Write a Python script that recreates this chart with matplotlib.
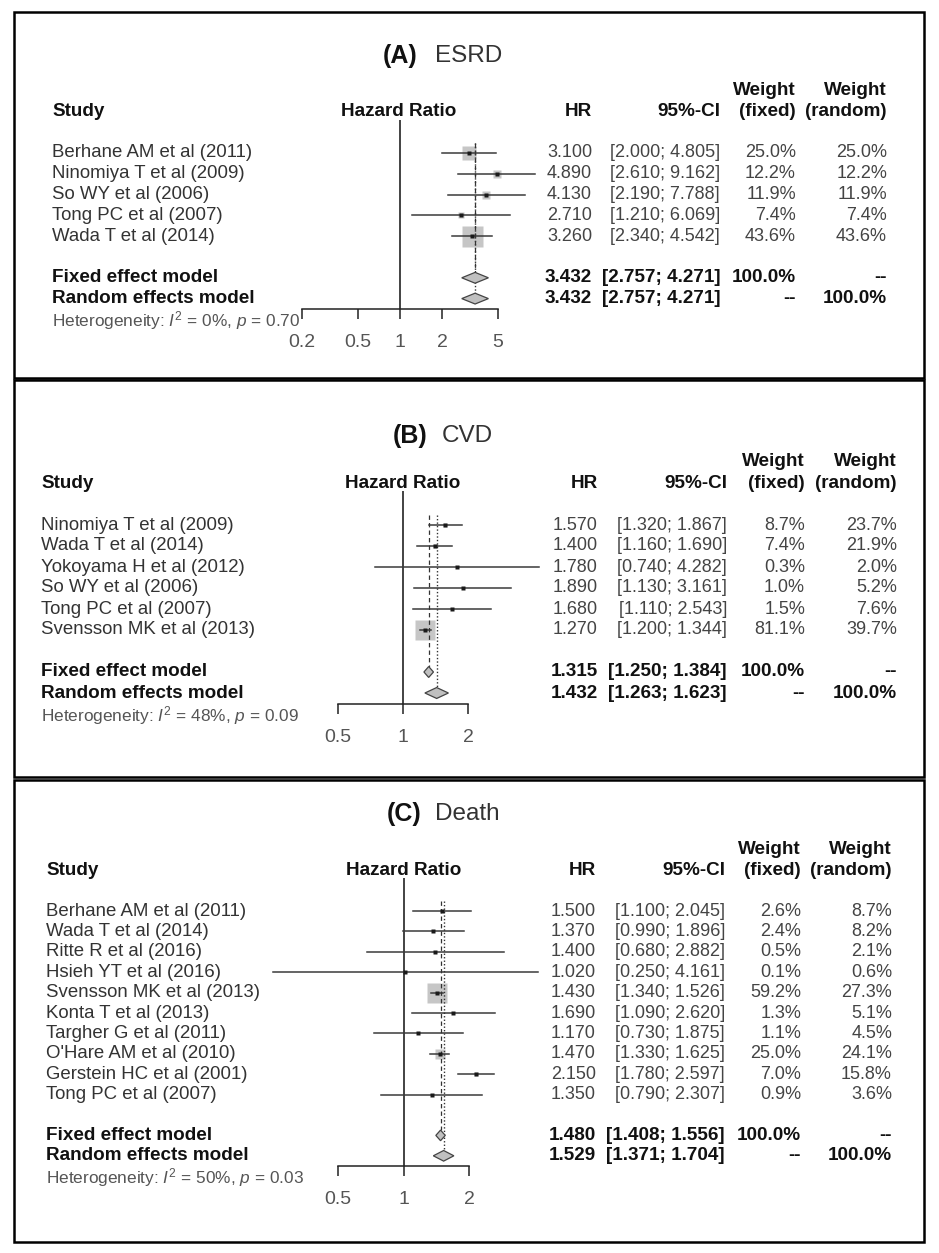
import matplotlib
matplotlib.use("Agg")
import matplotlib.pyplot as plt
from matplotlib import transforms
from matplotlib.patches import Rectangle, Polygon
from matplotlib.ticker import FixedLocator, FixedFormatter, NullLocator

plt.rcParams['font.family'] = ['Liberation Sans', 'DejaVu Sans']
plt.rcParams['mathtext.fontset'] = 'custom'
plt.rcParams['mathtext.rm'] = 'Liberation Sans'
plt.rcParams['mathtext.it'] = 'Liberation Sans:italic'

# ---- (A) ESRD ----
esrd_title = ("(A)", "ESRD")
esrd_studies = ["Berhane AM et al (2011)", "Ninomiya T et al (2009)", "So WY et al (2006)",
                "Tong PC et al (2007)", "Wada T et al (2014)"]
esrd_hr = [3.100, 4.890, 4.130, 2.710, 3.260]
esrd_lo = [2.000, 2.610, 2.190, 1.210, 2.340]
esrd_hi = [4.805, 9.162, 7.788, 6.069, 4.542]
esrd_wf = [25.0, 12.2, 11.9, 7.4, 43.6]
esrd_wr = [25.0, 12.2, 11.9, 7.4, 43.6]
esrd_fixed = [3.432, 2.757, 4.271]
esrd_random = [3.432, 2.757, 4.271]
esrd_i2, esrd_p = 0, 0.70
esrd_ticks = [0.2, 0.5, 1, 2, 5]
esrd_ticklabels = ["0.2", "0.5", "1", "2", "5"]

# ---- (B) CVD ----
cvd_title = ("(B)", "CVD")
cvd_studies = ["Ninomiya T et al (2009)", "Wada T et al (2014)", "Yokoyama H et al (2012)",
               "So WY et al (2006)", "Tong PC et al (2007)", "Svensson MK et al (2013)"]
cvd_hr = [1.570, 1.400, 1.780, 1.890, 1.680, 1.270]
cvd_lo = [1.320, 1.160, 0.740, 1.130, 1.110, 1.200]
cvd_hi = [1.867, 1.690, 4.282, 3.161, 2.543, 1.344]
cvd_wf = [8.7, 7.4, 0.3, 1.0, 1.5, 81.1]
cvd_wr = [23.7, 21.9, 2.0, 5.2, 7.6, 39.7]
cvd_fixed = [1.315, 1.250, 1.384]
cvd_random = [1.432, 1.263, 1.623]
cvd_i2, cvd_p = 48, 0.09
cvd_ticks = [0.5, 1, 2]
cvd_ticklabels = ["0.5", "1", "2"]

# ---- (C) Death ----
death_title = ("(C)", "Death")
death_studies = ["Berhane AM et al (2011)", "Wada T et al (2014)", "Ritte R et al (2016)",
                 "Hsieh YT et al (2016)", "Svensson MK et al (2013)", "Konta T et al (2013)",
                 "Targher G et al (2011)", "O'Hare AM et al (2010)", "Gerstein HC et al (2001)",
                 "Tong PC et al (2007)"]
death_hr = [1.500, 1.370, 1.400, 1.020, 1.430, 1.690, 1.170, 1.470, 2.150, 1.350]
death_lo = [1.100, 0.990, 0.680, 0.250, 1.340, 1.090, 0.730, 1.330, 1.780, 0.790]
death_hi = [2.045, 1.896, 2.882, 4.161, 1.526, 2.620, 1.875, 1.625, 2.597, 2.307]
death_wf = [2.6, 2.4, 0.5, 0.1, 59.2, 1.3, 1.1, 25.0, 7.0, 0.9]
death_wr = [8.7, 8.2, 2.1, 0.6, 27.3, 5.1, 4.5, 24.1, 15.8, 3.6]
death_fixed = [1.480, 1.408, 1.556]
death_random = [1.529, 1.371, 1.704]
death_i2, death_p = 50, 0.03
death_ticks = [0.5, 1, 2]
death_ticklabels = ["0.5", "1", "2"]

W, H = 939, 1253
fig = plt.figure(figsize=(W / 100, H / 100), dpi=100)

TXT = '#333333'
NUM = '#444444'
BLD = '#111111'


def px(x):
    return x / W


def draw_panel(title, studies, hr, lo, hi, wf, wr, fixed, random, i2, p, ticks, ticklabels, lay):
    n = len(studies)
    bx0, by0, bx1, by1 = lay['box']
    fig.patches.append(Rectangle((px(bx0), 1 - by1 / H), px(bx1 - bx0), (by1 - by0) / H,
                                 transform=fig.transFigure, fill=False, edgecolor='black', lw=1.8))

    # forest axes, y in row units (row 0 = first study)
    sp, r0 = lay['sp'], lay['row0']
    top, bot = -1.6, n + 2.5
    ytop, ybot = r0 + top * sp, r0 + bot * sp
    xl, xr = lay['axx']
    ax = fig.add_axes([px(xl), 1 - ybot / H, px(xr - xl), (ybot - ytop) / H])
    ax.set_xscale('log')
    ax.set_xlim(ticks[0], ticks[-1])
    ax.set_ylim(bot, top)
    ax.patch.set_visible(False)
    for s in ['left', 'right', 'top']:
        ax.spines[s].set_visible(False)
    ax.spines['bottom'].set_color('#222222')
    ax.spines['bottom'].set_linewidth(1.1)
    ax.yaxis.set_major_locator(NullLocator())
    ax.xaxis.set_major_locator(FixedLocator(ticks))
    ax.xaxis.set_major_formatter(FixedFormatter(ticklabels))
    ax.xaxis.set_minor_locator(NullLocator())
    ax.tick_params(axis='x', direction='out', length=7, width=1.1, color='#222222',
                   labelsize=14, labelcolor='#555555', pad=11)

    ax.axvline(1, color='#222222', lw=1.2, zorder=1)

    wmax = max(wf)
    for i in range(n):
        side = lay['sq'] * (wf[i] / wmax) ** 0.75
        ax.plot([hr[i]], [i], marker='s', ms=max(side, 2) * 0.72, color='#c6c6c6',
                mec='none', zorder=2, clip_on=False)
        ax.plot([lo[i], hi[i]], [i, i], color='#3a3a3a', lw=1.1, zorder=3, clip_on=False)
        ax.plot([hr[i]], [i], marker='s', ms=2.6, color='#1a1a1a', mec='none', zorder=4,
                clip_on=False)

    h = 0.26
    for k, (est, l, u) in enumerate([fixed, random]):
        r = n + 1 + k
        ax.add_patch(Polygon([(l, r), (est, r - h), (u, r), (est, r + h)], closed=True,
                             facecolor='#c0c0c0', edgecolor='#444444', lw=0.9, zorder=4))
    ax.plot([fixed[0]] * 2, [-0.5, n + 1 - h], ls=(0, (3.5, 2.5)), color='#333333', lw=0.9,
            zorder=3)
    ax.plot([random[0]] * 2, [-0.5, n + 2 - h], ls=(0, (1, 1.5)), color='#333333', lw=1.0,
            zorder=3)

    tr = transforms.blended_transform_factory(fig.transFigure, ax.transData)

    def t(x, y, s, ha='left', bold=False, size=None, color=None):
        if size is None:
            size = 13.6 if bold else 13.4
        ax.text(px(x), y, s, transform=tr, ha=ha, va='center', fontsize=size,
                fontweight='bold' if bold else 'normal',
                color=color or (BLD if bold else TXT), clip_on=False)

    # title
    ty = (lay['title_y'] - r0) / sp
    t(lay['title_gap'][0], ty, title[0], ha='right', bold=True, size=18)
    t(lay['title_gap'][1], ty, title[1], size=17.5)

    # headers
    c_hr, c_ci, c_wf, c_wr = lay['cols']
    t(lay['study_x'], -2, "Study", bold=True)
    t(lay['hr_x'], -2, "Hazard Ratio", ha='center', bold=True)
    t(c_hr, -2, "HR", ha='right', bold=True)
    t(c_ci, -2, "95%-CI", ha='right', bold=True)
    t(c_wf, -3, "Weight", ha='right', bold=True)
    t(c_wf, -2, "(fixed)", ha='right', bold=True)
    t(c_wr, -3, "Weight", ha='right', bold=True)
    t(c_wr, -2, "(random)", ha='right', bold=True)

    for i in range(n):
        t(lay['study_x'], i, studies[i])
        t(c_hr, i, f"{hr[i]:.3f}", ha='right', size=13, color=NUM)
        t(c_ci, i, f"[{lo[i]:.3f}; {hi[i]:.3f}]", ha='right', size=13, color=NUM)
        t(c_wf, i, f"{wf[i]:.1f}%", ha='right', size=13, color=NUM)
        t(c_wr, i, f"{wr[i]:.1f}%", ha='right', size=13, color=NUM)

    for k, (lab, est) in enumerate([("Fixed effect model", fixed), ("Random effects model", random)]):
        r = n + 1 + k
        t(lay['study_x'], r, lab, bold=True)
        t(c_hr, r, f"{est[0]:.3f}", ha='right', bold=True)
        t(c_ci, r, f"[{est[1]:.3f}; {est[2]:.3f}]", ha='right', bold=True)
        t(c_wf, r, "100.0%" if k == 0 else "--", ha='right', bold=True)
        t(c_wr, r, "--" if k == 0 else "100.0%", ha='right', bold=True)

    t(lay['study_x'], n + 3.05, r"Heterogeneity: $I^2$ = %d%%, $p$ = %.2f" % (i2, p),
      size=12.4, color='#555555')


draw_panel(esrd_title, esrd_studies, esrd_hr, esrd_lo, esrd_hi, esrd_wf, esrd_wr,
           esrd_fixed, esrd_random, esrd_i2, esrd_p, esrd_ticks, esrd_ticklabels,
           dict(box=(14, 12, 924, 378), axx=(302, 498), row0=153, sp=20.8, study_x=52,
                hr_x=399, cols=(592, 720, 796, 887), title_gap=(418, 435), title_y=56, sq=21))
draw_panel(cvd_title, cvd_studies, cvd_hr, cvd_lo, cvd_hi, cvd_wf, cvd_wr,
           cvd_fixed, cvd_random, cvd_i2, cvd_p, cvd_ticks, cvd_ticklabels,
           dict(box=(14, 380, 924, 777), axx=(338, 468), row0=525, sp=21, study_x=41,
                hr_x=403, cols=(598, 727, 805, 897), title_gap=(428, 442), title_y=436, sq=20))
draw_panel(death_title, death_studies, death_hr, death_lo, death_hi, death_wf, death_wr,
           death_fixed, death_random, death_i2, death_p, death_ticks, death_ticklabels,
           dict(box=(14, 780, 924, 1242), axx=(338, 469), row0=911, sp=20.4, study_x=46,
                hr_x=404, cols=(596, 725, 801, 892), title_gap=(421, 435), title_y=814, sq=20))

fig.savefig("out.png", dpi=100)
